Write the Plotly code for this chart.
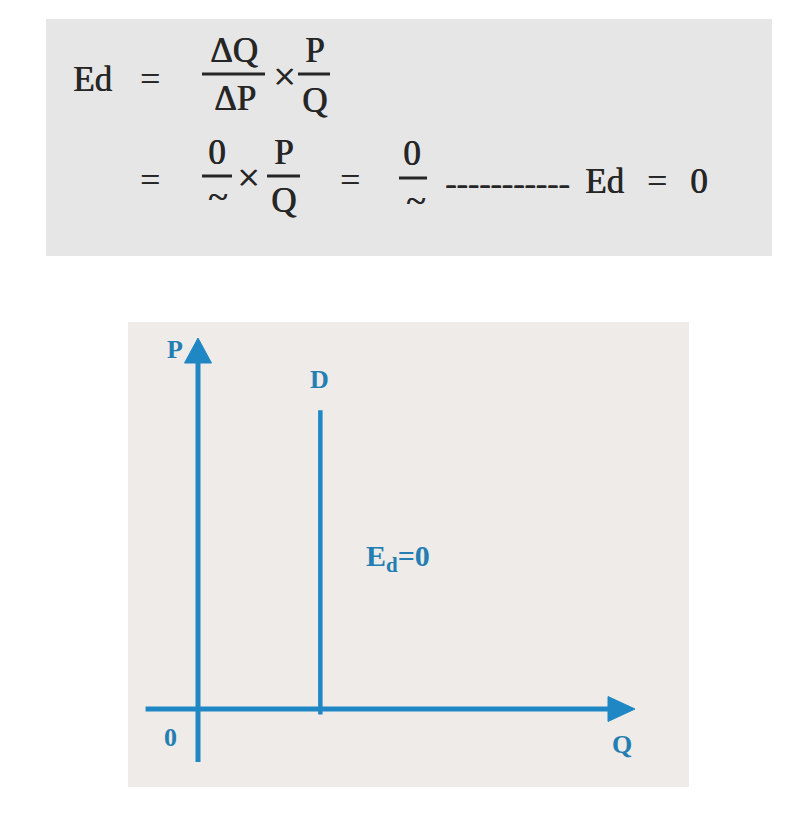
import plotly.graph_objects as go

# ---------------- data ----------------
q_axis = [-1.2, 10.0]          # quantity axis extent (start, arrow tip)
p_axis = [-1.43, 10.0]         # price axis extent (start, arrow tip)
demand_q = [2.8, 2.8]          # perfectly inelastic demand: Q constant
demand_p = [-0.15, 8.05]       # price span of the demand line
axis_labels = ["P", "Q", "0"]
curve_label = "D"
elasticity_label = "E<sub>d</sub>=0"

# ---------------- layout helpers ----------------
PAGE_W, PAGE_H = 794, 836
OFF = 8                                   # default page body margin
W, H = PAGE_W - OFF, PAGE_H - OFF
OX, OY = 198, 709      # page-pixel position of origin
SX, SY = 43.7, 37.1    # pixels per data unit
x_range = [(OFF - OX) / SX, (PAGE_W - OX) / SX]
y_range = [(OY - PAGE_H) / SY, (OY - OFF) / SY]

def px(x):
    return (x - OFF) / W

def py(y):
    return 1 - (y - OFF) / H

BLUE = "#2087c5"
LBLUE = "#237eb3"
INK = "#262626"
SERIF = "Liberation Serif, Times New Roman, serif"

fig = go.Figure()

head_len_x = 27 / SX
head_half_x = 12.5 / SY
head_len_y = 25 / SY
head_half_y = 13.5 / SX

fig.add_trace(go.Scatter(x=[q_axis[0], q_axis[1] - head_len_x], y=[0, 0], mode="lines",
                         line=dict(color=BLUE, width=5), hoverinfo="skip"))
fig.add_trace(go.Scatter(x=[0, 0], y=[p_axis[0], p_axis[1] - head_len_y], mode="lines",
                         line=dict(color=BLUE, width=5), hoverinfo="skip"))
qt = q_axis[1]
fig.add_trace(go.Scatter(x=[qt, qt - head_len_x, qt - head_len_x, qt],
                         y=[0, head_half_x, -head_half_x, 0], mode="lines", fill="toself",
                         fillcolor=BLUE, line=dict(color=BLUE, width=1), hoverinfo="skip"))
pt = p_axis[1]
fig.add_trace(go.Scatter(x=[0, head_half_y, -head_half_y, 0],
                         y=[pt, pt - head_len_y, pt - head_len_y, pt], mode="lines", fill="toself",
                         fillcolor=BLUE, line=dict(color=BLUE, width=1), hoverinfo="skip"))
fig.add_trace(go.Scatter(x=demand_q, y=demand_p, mode="lines",
                         line=dict(color=BLUE, width=4.5), hoverinfo="skip"))

lab_font = dict(family=SERIF, size=26, color=LBLUE)
annotations = [
    dict(x=-0.53, y=9.68, text="<b>%s</b>" % axis_labels[0]),
    dict(x=9.7, y=-0.97, text="<b>%s</b>" % axis_labels[1]),
    dict(x=-0.64, y=-0.78, text="<b>%s</b>" % axis_labels[2]),
    dict(x=demand_q[1] - 0.03, y=demand_p[1] + 0.83, text="<b>%s</b>" % curve_label),
    dict(x=demand_q[1] + 1.78, y=4.07, text="<b>%s</b>" % elasticity_label,
         font=dict(family=SERIF, size=30, color=LBLUE)),
]
for a in annotations:
    a.setdefault("font", lab_font)
    a.update(xref="x", yref="y", showarrow=False, xanchor="center", yanchor="middle")

F = 35
def ftxt(x, y, t, size=F):
    return dict(x=px(x), y=py(y), xref="paper", yref="paper", text=t, showarrow=False,
                xanchor="center", yanchor="middle",
                font=dict(family=SERIF, size=size, color=INK, shadow="0.7px 0 0 %s" % INK))

formula = [
    ftxt(92, 79, "Ed"), ftxt(150, 79, "="),
    ftxt(234, 50, "ΔQ"), ftxt(235, 98, "ΔP"), ftxt(284, 76, "×", 40),
    ftxt(314, 50, "P"), ftxt(314, 100, "Q"),
    ftxt(150, 180, "="), ftxt(217, 152, "0"), ftxt(217, 197, "~", 36), ftxt(248, 177, "×", 40),
    ftxt(283, 152, "P"), ftxt(283, 200, "Q"), ftxt(350, 180, "="),
    ftxt(412, 153, "0"), ftxt(415, 201, "~", 36),
    ftxt(507, 183, "-----------", 34),
    ftxt(604, 181, "Ed"), ftxt(657, 181, "="), ftxt(699, 181, "0"),
]

shapes = [
    dict(type="rect", xref="paper", yref="paper", x0=px(46), x1=px(772), y0=py(256), y1=py(19),
         fillcolor="#e6e6e6", line=dict(width=0), layer="below"),
    dict(type="rect", xref="paper", yref="paper", x0=px(128), x1=px(689), y0=py(787), y1=py(322),
         fillcolor="#eeebe8", line=dict(width=0), layer="below"),
]
for (x0, x1, y) in [(202, 265, 74), (298, 330, 74), (202, 232, 176), (267, 300, 176), (399, 427, 178)]:
    shapes.append(dict(type="line", xref="paper", yref="paper", x0=px(x0), x1=px(x1), y0=py(y), y1=py(y),
                       line=dict(color=INK, width=3)))

fig.update_layout(
    width=W, height=H, margin=dict(l=0, r=0, t=0, b=0),
    paper_bgcolor="white", plot_bgcolor="rgba(0,0,0,0)", showlegend=False,
    xaxis=dict(range=x_range, visible=False, fixedrange=True),
    yaxis=dict(range=y_range, visible=False, fixedrange=True),
    annotations=annotations + formula, shapes=shapes,
)

fig.write_html("out.html")
